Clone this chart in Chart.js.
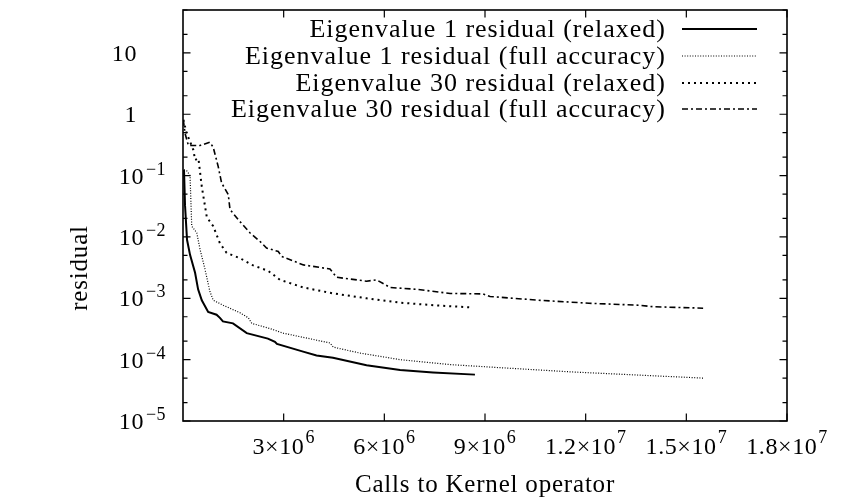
<!DOCTYPE html>
<html><head><meta charset="utf-8">
<script src="https://cdn.jsdelivr.net/npm/chart.js@4"></script>
<style>html,body{margin:0;padding:0;background:#fff}</style>
</head><body>
<canvas id="c" width="842" height="502"></canvas>
<script>
// ---- data ----
const seriesLabels = [
  'Eigenvalue 1 residual (relaxed)',
  'Eigenvalue 1 residual (full accuracy)',
  'Eigenvalue 30 residual (relaxed)',
  'Eigenvalue 30 residual (full accuracy)'
];
const ev1RelaxedX = [3e4, 6e4, 1.2e5, 2.1e5, 3.6e5, 4.5e5, 5.6e5, 7.5e5, 1.0e6, 1.1e6, 1.19e6, 1.49e6, 1.9e6, 2.53e6, 2.74e6, 2.8e6, 3.58e6, 3.98e6, 4.47e6, 5.47e6, 6.47e6, 7.45e6, 8.7e6];
const ev1RelaxedY = [0.124, 0.033, 0.009, 0.0051, 0.0026, 0.0014, 9.3e-4, 6.0e-4, 5.4e-4, 4.8e-4, 4.2e-4, 3.9e-4, 2.7e-4, 2.2e-4, 1.95e-4, 1.8e-4, 1.35e-4, 1.17e-4, 1.07e-4, 8.1e-5, 6.8e-5, 6.2e-5, 5.7e-5];
const ev1FullX = [3e4, 1.1e5, 2.1e5, 2.6e5, 4.1e5, 5.1e5, 6.6e5, 8.0e5, 9.0e5, 1.2e6, 1.7e6, 1.95e6, 2.05e6, 2.6e6, 2.99e6, 4.38e6, 4.48e6, 5.27e6, 6.47e6, 7.96e6, 9.45e6, 1.16e7, 1.55e7];
const ev1FullY = [0.124, 0.12, 0.1, 0.015, 0.0117, 0.0062, 0.0029, 0.0013, 9.3e-4, 7.7e-4, 5.8e-4, 4.8e-4, 3.9e-4, 3.2e-4, 2.7e-4, 1.87e-4, 1.6e-4, 1.28e-4, 1.0e-4, 8.3e-5, 7.4e-5, 6.3e-5, 5.0e-5];
const ev30RelaxedX = [1e4, 1.1e5, 3.1e5, 3.6e5, 4.6e5, 5.6e5, 7.1e5, 9.0e5, 1.1e6, 1.3e6, 1.7e6, 2.05e6, 2.54e6, 2.89e6, 3.59e6, 4.48e6, 5.47e6, 6.47e6, 7.46e6, 8.6e6];
const ev30RelaxedY = [0.81, 0.49, 0.26, 0.18, 0.19, 0.066, 0.021, 0.015, 0.0079, 0.0055, 0.0045, 0.0035, 0.0028, 0.002, 0.0015, 0.0012, 0.001, 8.5e-4, 7.7e-4, 7.1e-4];
const ev30FullX = [1e4, 6e4, 1.6e5, 5.1e5, 8.0e5, 9.0e5, 1.05e6, 1.15e6, 1.35e6, 1.4e6, 1.65e6, 2.0e6, 2.29e6, 2.49e6, 2.84e6, 2.94e6, 3.59e6, 4.38e6, 4.58e6, 5.47e6, 5.77e6, 6.17e6, 6.96e6, 7.96e6, 8.94e6, 9.15e6, 1.06e7, 1.21e7, 1.36e7, 1.40e7, 1.55e7];
const ev30FullY = [0.81, 0.49, 0.31, 0.31, 0.35, 0.29, 0.14, 0.076, 0.049, 0.028, 0.019, 0.0116, 0.0085, 0.0066, 0.0058, 0.0048, 0.0035, 0.0030, 0.0022, 0.0019, 0.0020, 0.0015, 0.0014, 0.0012, 0.00118, 0.00107, 9.3e-4, 8.3e-4, 7.7e-4, 7.3e-4, 6.9e-4];

const yTickValues = [1e-5, 1e-4, 1e-3, 1e-2, 1e-1, 1, 10];
const yTickBase   = ['10', '10', '10', '10', '10', '1', '10'];
const yTickExp    = ['\u22125', '\u22124', '\u22123', '\u22122', '\u22121', '', ''];
const xTickValues = [3e6, 6e6, 9e6, 1.2e7, 1.5e7, 1.8e7];
const xTickMant   = ['3', '6', '9', '1.2', '1.5', '1.8'];
const xTickExp    = ['6', '6', '6', '7', '7', '7'];
const xAxisTitle = 'Calls to Kernel operator';
const yAxisTitle = 'residual';

// ---- styles ----
const FONT = '"Liberation Serif", "Times New Roman", serif';
const styles = [
  { borderWidth: 2, borderDash: [] },
  { borderWidth: 1.2, borderDash: [1, 1.6] },
  { borderWidth: 2, borderDash: [2, 4] },
  { borderWidth: 1.6, borderDash: [6, 3, 2, 3] }
];
const xs = [ev1RelaxedX, ev1FullX, ev30RelaxedX, ev30FullX];
const ys = [ev1RelaxedY, ev1FullY, ev30RelaxedY, ev30FullY];

const datasets = seriesLabels.map((lab, k) => ({
  label: lab,
  data: xs[k].map((x, i) => ({ x: x, y: ys[k][i] })),
  borderColor: '#000',
  backgroundColor: '#000',
  borderWidth: styles[k].borderWidth,
  borderDash: styles[k].borderDash,
  pointRadius: 0,
  tension: 0,
  fill: false
}));

function setFont(ctx, size, spacing) {
  ctx.font = size + 'px ' + FONT;
  if ('letterSpacing' in ctx) ctx.letterSpacing = (spacing || 0) + 'px';
}

const decor = {
  id: 'decor',
  afterDraw(chart) {
    const ctx = chart.ctx, a = chart.chartArea;
    const xs_ = chart.scales.x, ys_ = chart.scales.y;
    ctx.save();
    ctx.strokeStyle = '#000';
    ctx.fillStyle = '#000';
    // border
    ctx.lineWidth = 1.6;
    ctx.strokeRect(a.left, a.top, a.right - a.left, a.bottom - a.top);
    // y ticks
    ctx.lineWidth = 1.2;
    const yMaj = 7.5, yMin = 4.5;
    const ticksY = [];
    for (let e = -5; e <= 1; e++) {
      [1, 2, 5].forEach(m => { const v = m * Math.pow(10, e); if (v >= ys_.min && v <= ys_.max) ticksY.push([v, m === 1]); });
    }
    ticksY.forEach(([v, maj]) => {
      const py = ys_.getPixelForValue(v);
      const L = maj ? yMaj : yMin;
      ctx.beginPath();
      ctx.moveTo(a.left, py); ctx.lineTo(a.left + L, py);
      ctx.moveTo(a.right, py); ctx.lineTo(a.right - L, py);
      ctx.stroke();
    });
    // x ticks
    xTickValues.forEach(v => {
      const px = xs_.getPixelForValue(v);
      ctx.beginPath();
      ctx.moveTo(px, a.bottom); ctx.lineTo(px, a.bottom - 7.5);
      ctx.moveTo(px, a.top); ctx.lineTo(px, a.top + 7.5);
      ctx.stroke();
    });
    // y tick labels
    ctx.textBaseline = 'alphabetic';
    ctx.textAlign = 'left';
    yTickValues.forEach((v, i) => {
      const py = ys_.getPixelForValue(v);
      const base = yTickBase[i], ex = yTickExp[i];
      setFont(ctx, 24, 0.6);
      const bw = ctx.measureText(base).width;
      setFont(ctx, 18, 0.4);
      const ew = ex ? ctx.measureText(ex).width : 0;
      const right = 166;
      let x0;
      if (ex) x0 = right - ew - 2 - bw; else x0 = 137 - bw;
      setFont(ctx, 24, 0.6);
      ctx.fillText(base, x0, py + 8);
      if (ex) { setFont(ctx, 18, 0.4); ctx.fillText(ex, x0 + bw + 2, py - 1); }
    });
    // x tick labels
    xTickValues.forEach((v, i) => {
      const px = xs_.getPixelForValue(v);
      setFont(ctx, 24, 0.6);
      const main = xTickMant[i] + '\u00d710';
      const mw = ctx.measureText(main).width;
      setFont(ctx, 18, 0.4);
      const ew = ctx.measureText(xTickExp[i]).width;
      const x0 = px - (mw + ew + 1) / 2;
      setFont(ctx, 24, 0.6);
      ctx.fillText(main, x0, a.bottom + 33);
      setFont(ctx, 18, 0.4);
      ctx.fillText(xTickExp[i], x0 + mw + 1, a.bottom + 22);
    });
    // axis titles
    setFont(ctx, 25, 0.8);
    ctx.textAlign = 'center';
    ctx.fillText(xAxisTitle, (a.left + a.right) / 2, a.bottom + 71);
    ctx.save();
    ctx.translate(80, 268);
    ctx.rotate(-Math.PI / 2);
    ctx.textBaseline = 'middle';
    ctx.fillText(yAxisTitle, 0, 0);
    ctx.restore();
    // legend
    const rowY = [37, 64, 91, 117];
    chart.data.datasets.forEach((ds, k) => {
      setFont(ctx, 26, 1);
      ctx.textAlign = 'right';
      ctx.textBaseline = 'alphabetic';
      ctx.fillText(ds.label, 666, rowY[k]);
      ctx.save();
      ctx.lineWidth = ds.borderWidth;
      ctx.setLineDash(ds.borderDash);
      ctx.beginPath();
      ctx.moveTo(682, rowY[k] - 8);
      ctx.lineTo(757, rowY[k] - 8);
      ctx.stroke();
      ctx.restore();
    });
    ctx.restore();
  }
};

new Chart(document.getElementById('c'), {
  type: 'line',
  data: { datasets: datasets },
  options: {
    responsive: false,
    animation: false,
    layout: { padding: { top: 10, right: 55, left: 0, bottom: 0 } },
    plugins: { legend: { display: false }, tooltip: { enabled: false } },
    scales: {
      x: {
        type: 'linear', min: 0, max: 1.8e7,
        ticks: { display: false }, grid: { display: false }, border: { display: false },
        afterFit(s) { s.height = 81; }
      },
      y: {
        type: 'logarithmic', min: 1e-5, max: 50,
        ticks: { display: false }, grid: { display: false }, border: { display: false },
        afterFit(s) { s.width = 183; }
      }
    }
  },
  plugins: [decor]
});
</script>
</body></html>
